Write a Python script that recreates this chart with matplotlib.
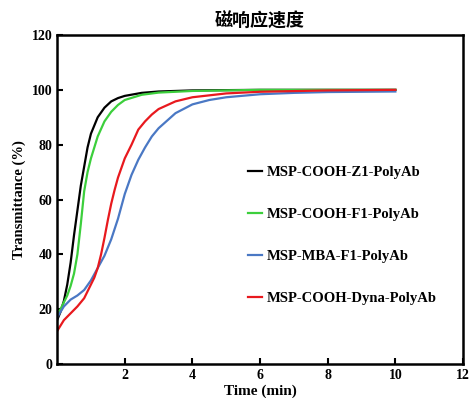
import matplotlib
matplotlib.use('Agg')
import matplotlib.pyplot as plt

plt.rcParams['font.family'] = ['Liberation Serif', 'Noto Sans CJK SC', 'DejaVu Sans']
plt.rcParams['font.weight'] = 'bold'

labels = ['MSP-COOH-Z1-PolyAb', 'MSP-COOH-F1-PolyAb', 'MSP-MBA-F1-PolyAb', 'MSP-COOH-Dyna-PolyAb']
colors = ['#000000', '#3ccf3c', '#4a78c4', '#e8191e']

t_z1 = [0, 0.1, 0.2, 0.3, 0.4, 0.5, 0.6, 0.7, 0.8, 0.9, 1.0, 1.2, 1.4, 1.6, 1.8, 2.0, 2.5, 3, 4, 5, 6, 8, 10]
y_z1 = [16, 19, 23, 29, 37, 47, 56, 65, 72, 79, 84, 90, 93.5, 95.8, 97, 97.8, 98.9, 99.4, 99.8, 99.9, 100, 100, 100]

t_f1 = [0, 0.1, 0.2, 0.3, 0.4, 0.5, 0.6, 0.7, 0.8, 0.9, 1.0, 1.1, 1.2, 1.4, 1.6, 1.8, 2.0, 2.5, 3, 4, 5, 6, 8, 10]
y_f1 = [18, 20, 22.5, 25, 28.5, 33, 40, 51, 63, 70, 75, 79, 83, 88.5, 92, 94.5, 96.3, 98.2, 99, 99.6, 99.8, 100, 100, 100]

t_mba = [0, 0.1, 0.2, 0.4, 0.6, 0.8, 1.0, 1.2, 1.4, 1.6, 1.8, 2.0, 2.2, 2.4, 2.6, 2.8, 3.0, 3.5, 4.0, 4.5, 5, 6, 7, 8, 9, 10]
y_mba = [17, 19, 21, 23.5, 25, 27, 30.5, 35, 39.5, 45.5, 53, 62, 69, 74.5, 79, 83, 86, 91.5, 94.7, 96.3, 97.3, 98.4, 98.9, 99.2, 99.3, 99.4]

t_dyna = [0, 0.1, 0.2, 0.4, 0.6, 0.8, 1.0, 1.1, 1.2, 1.3, 1.4, 1.5, 1.6, 1.7, 1.8, 2.0, 2.2, 2.4, 2.6, 2.8, 3.0, 3.5, 4, 5, 6, 8, 10]
y_dyna = [12, 14, 16, 18.5, 21, 24, 29, 31.5, 35, 40, 46, 52.5, 58.5, 63.5, 68, 75, 80, 85.5, 88.5, 91, 93, 95.8, 97.3, 98.7, 99.3, 99.8, 100]

series = [(t_z1, y_z1), (t_f1, y_f1), (t_mba, y_mba), (t_dyna, y_dyna)]

fig = plt.figure(figsize=(4.72, 3.98), dpi=100)
ax = fig.add_axes([0.121, 0.0854, 0.860, 0.8266])

for (t, y), c, lab in zip(series, colors, labels):
    ax.plot(t, y, color=c, lw=1.6, label=lab)

ax.set_xlim(0, 12)
ax.set_ylim(0, 120)
ax.set_xticks([2, 4, 6, 8, 10, 12])
ax.set_yticks([0, 20, 40, 60, 80, 100, 120])
ax.tick_params(direction='in', length=4, width=1.5, labelsize=10)
for lbl in ax.get_xticklabels() + ax.get_yticklabels():
    lbl.set_fontweight('bold')
for s in ax.spines.values():
    s.set_linewidth(1.8)

ax.set_xlabel('Time (min)', fontsize=11, fontweight='bold', labelpad=2)
ax.set_ylabel('Transmittance (%)', fontsize=10.5, fontweight='bold', labelpad=4)
ax.set_title('磁响应速度', fontsize=13, fontweight='bold', family=['Noto Sans CJK SC'], pad=6)

leg = ax.legend(loc='center left', bbox_to_anchor=(0.438, 0.39), frameon=False,
                fontsize=10.5, handlelength=0.95, handletextpad=0.35, labelspacing=1.98)
for txt in leg.get_texts():
    txt.set_fontweight('bold')

fig.savefig('out.png', dpi=100)
